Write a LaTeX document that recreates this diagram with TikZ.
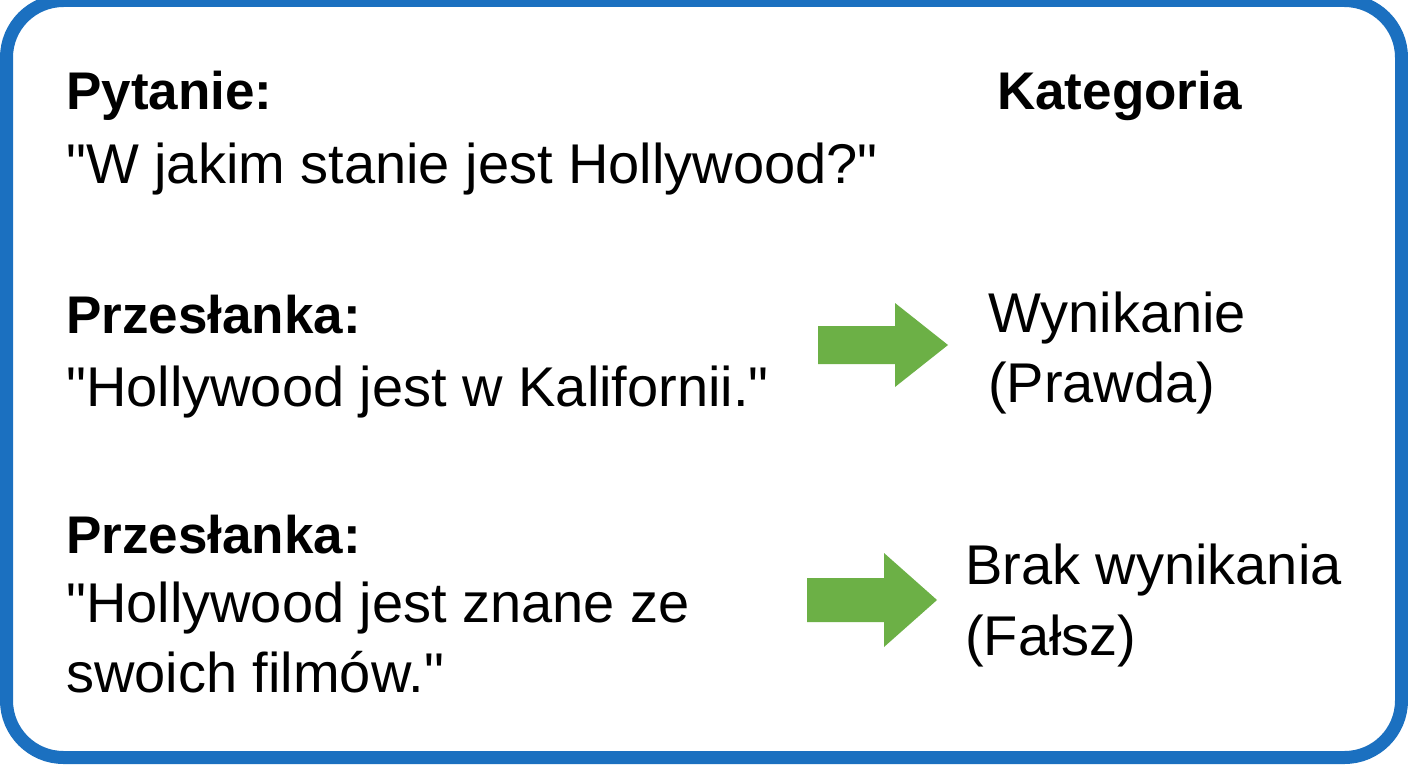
\documentclass[tikz,border=0pt]{standalone}
\usepackage{fontspec}
\setmainfont{Liberation Sans}[Ligatures=TeXOff]
\definecolor{frameblue}{RGB}{27,112,192}
\definecolor{arrowgreen}{RGB}{108,176,70}
\begin{document}
\begin{tikzpicture}[x=1pt,y=-1pt,
  head/.style={anchor=base west,inner sep=0pt,font=\fontsize{53}{60}\selectfont\bfseries},
  body/.style={anchor=base west,inner sep=0pt,font=\fontsize{56}{66}\selectfont},
  bigarrow/.style={fill=arrowgreen,draw=none}]
\useasboundingbox (0,0) rectangle (1408,768);
\fill[white] (0,0) rectangle (1408,768);
\draw[frameblue,line width=13pt,rounded corners=57pt] (6.5,0.5) rectangle (1401.5,757.5);

\node[head] (q) at (66,110) {Pytanie:};
\node[body] (qt) at (66,183) {"W jakim stanie jest Hollywood?"};
\node[head] (cat) at (997,110) {Kategoria};

\node[head] (p1) at (66,333) {Przesłanka:};
\node[body] (p1t) at (66,406) {"Hollywood jest w Kalifornii."};
\node[body] (c1) at (988,332) {Wynikanie};
\node[body] (c1b) at (988,402) {(Prawda)};

\node[head] (p2) at (66,553) {Przesłanka:};
\node[body] (p2t) at (66,622) {"Hollywood jest znane ze};
\node[body] (p2u) at (66,692) {swoich filmów."};
\node[body] (c2) at (965,584) {Brak wynikania};
\node[body] (c2b) at (965,655) {(Fałsz)};

\fill[bigarrow] (818,326) -- (895,326) -- (895,303) -- (948,345) -- (895,387) -- (895,364) -- (818,364) -- cycle;
\fill[bigarrow] (807,578) -- (884,578) -- (884,553) -- (937,600) -- (884,647) -- (884,622) -- (807,622) -- cycle;
\end{tikzpicture}
\end{document}
